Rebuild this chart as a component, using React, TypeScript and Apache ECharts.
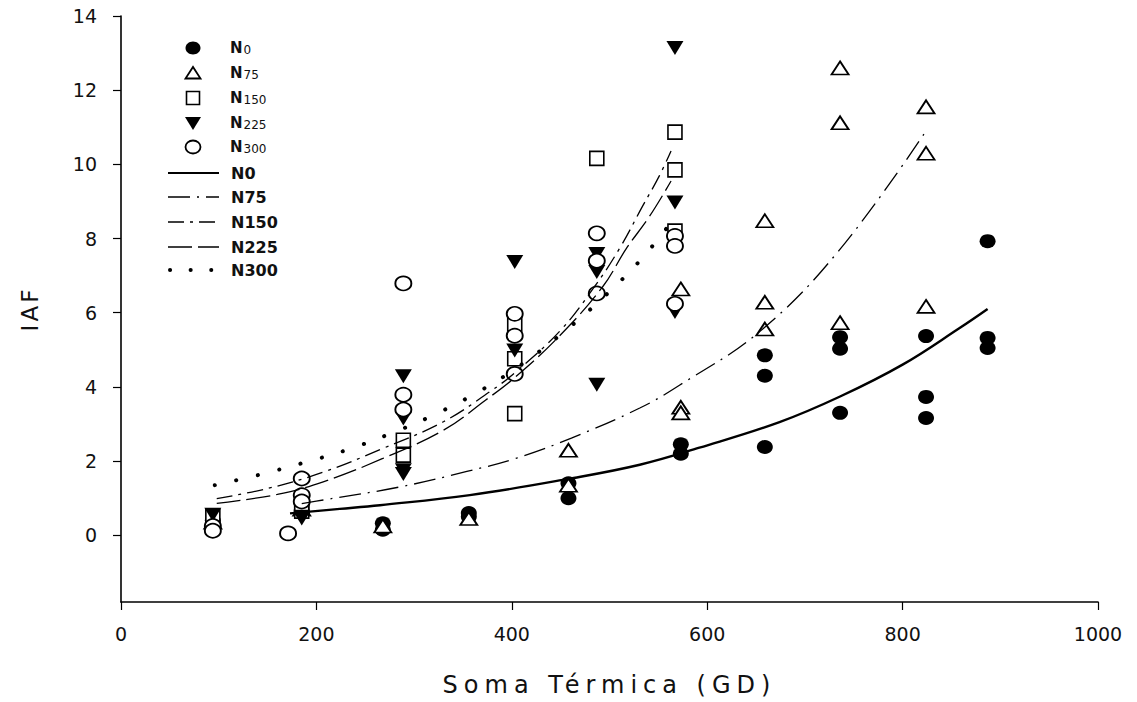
import React, { useEffect, useRef } from 'react';
import * as echarts from 'echarts';

const xTicks = [0, 200, 400, 600, 800, 1000];
const yTicks = [0, 2, 4, 6, 8, 10, 12, 14];

// Observed points [Soma Térmica (GD), IAF]
const n0Points = [
  [94, 0.4], [171, 0.05], [185, 0.6], [268, 0.32], [268, 0.15], [356, 0.6], [356, 0.5],
  [458, 1.4], [458, 1.0], [573, 2.45], [573, 2.2], [659, 4.85], [659, 4.3], [659, 2.38],
  [736, 5.34], [736, 5.03], [736, 3.3], [824, 5.37], [824, 3.73], [824, 3.16],
  [887, 7.93], [887, 5.32], [887, 5.05],
];
const n75Points = [
  [94, 0.35], [185, 0.7], [268, 0.25], [356, 0.45], [458, 2.29], [458, 1.35],
  [573, 6.64], [573, 3.45], [573, 3.3], [659, 8.48], [659, 6.28], [659, 5.56],
  [736, 12.6], [736, 11.12], [736, 5.73], [824, 11.55], [824, 10.3], [824, 6.17],
];
const n150Points = [
  [94, 0.5], [185, 0.65], [185, 0.75], [289, 2.56], [289, 2.16], [403, 5.7], [403, 4.76],
  [403, 3.28], [487, 10.16], [567, 10.87], [567, 9.85], [567, 8.2],
];
const n225Points = [
  [94, 0.55], [185, 0.5], [185, 0.45], [289, 4.29], [289, 3.15], [289, 1.75], [289, 1.65],
  [403, 7.37], [403, 4.98], [487, 7.58], [487, 7.1], [487, 4.06], [567, 13.14], [567, 8.97],
  [567, 6.02],
];
const n300Points = [
  [94, 0.25], [94, 0.12], [171, 0.05], [185, 1.53], [185, 1.08], [185, 0.91], [289, 6.79],
  [289, 3.79], [289, 3.39], [403, 5.97], [403, 5.38], [403, 4.35], [487, 8.14], [487, 7.4],
  [487, 6.52], [567, 8.07], [567, 7.8], [567, 6.24],
];

// Fitted curves
const n0Curve = [
  [173, 0.59], [224, 0.71], [265, 0.81], [357, 1.08], [458, 1.52], [531, 1.9], [592, 2.36],
  [674, 3.05], [736, 3.74], [800, 4.6], [858, 5.58], [887, 6.1],
];
const n75Curve = [
  [185, 0.85], [207, 0.95], [285, 1.3], [354, 1.72], [405, 2.08], [461, 2.62], [531, 3.43],
  [572, 4.05], [654, 5.5], [735, 7.68], [824, 10.9],
];
const n150Curve = [
  [98, 0.99], [150, 1.26], [207, 1.7], [268, 2.34], [330, 3.06], [377, 3.86], [403, 4.38],
  [449, 5.5], [483, 6.64], [510, 7.72], [534, 8.88], [551, 9.69], [563, 10.36],
];
const n225Curve = [
  [98, 0.86], [160, 1.1], [207, 1.44], [268, 2.07], [330, 2.83], [373, 3.64], [403, 4.25],
  [449, 5.38], [493, 6.7], [517, 7.72], [541, 8.6], [563, 9.55],
];
const n300Curve = [
  [96, 1.35], [140, 1.62], [185, 1.94], [230, 2.29], [274, 2.72], [319, 3.23], [364, 3.84],
  [406, 4.53], [451, 5.43], [494, 6.42], [531, 7.4], [563, 8.43],
];

const FONT = 'DejaVu Sans';
const X_TITLE = 'Soma Térmica (GD)';
const Y_TITLE = 'IAF';

function buildLegend() {
  const els: any[] = [];
  const sx = 193;
  const rows = [48, 73, 98, 123, 147];
  els.push({ type: 'ellipse', shape: { cx: sx, cy: rows[0], rx: 7.5, ry: 6.5 }, style: { fill: '#000' } });
  els.push({ type: 'polygon', shape: { points: [[sx - 7.5, rows[1] + 5.5], [sx + 7.5, rows[1] + 5.5], [sx, rows[1] - 6]] }, style: { fill: '#fff', stroke: '#000', lineWidth: 1.8 } });
  els.push({ type: 'rect', shape: { x: sx - 6.5, y: rows[2] - 6.5, width: 13, height: 13 }, style: { fill: '#fff', stroke: '#000', lineWidth: 1.6 } });
  els.push({ type: 'polygon', shape: { points: [[sx - 8, rows[3] - 6], [sx + 8, rows[3] - 6], [sx, rows[3] + 7]] }, style: { fill: '#000' } });
  els.push({ type: 'ellipse', shape: { cx: sx, cy: rows[4], rx: 7.5, ry: 6.5 }, style: { fill: '#fff', stroke: '#000', lineWidth: 1.8 } });
  const symLabels = [['N', '0'], ['N', '75'], ['N', '150'], ['N', '225'], ['N', '300']];
  symLabels.forEach((l, i) => {
    els.push({
      type: 'text', x: 230, y: rows[i],
      style: {
        text: `{a|${l[0]}}{b|${l[1]}}`, verticalAlign: 'middle',
        rich: {
          a: { fontFamily: FONT, fontSize: 15, fill: '#111', fontWeight: 'bold', verticalAlign: 'bottom' },
          b: { fontFamily: FONT, fontSize: 12, fill: '#111', verticalAlign: 'bottom', padding: [0, 0, 0, 1] },
        },
      },
    });
  });
  const lineRows = [173, 197, 222, 247, 270];
  const lineNames = ['N0', 'N75', 'N150', 'N225', 'N300'];
  const dashes: any[] = [null, [22, 7, 2, 7], [16, 6, 3, 6], [24, 6], [0.1, 20.5]];
  lineRows.forEach((y, i) => {
    els.push({
      type: 'line', shape: { x1: i === 4 ? 170 : 168, y1: y, x2: i === 4 ? 213 : 219, y2: y },
      style: { stroke: '#000', lineWidth: i === 0 ? 2 : i === 4 ? 4 : 1.4, lineDash: dashes[i] || undefined, lineCap: i === 4 ? 'round' : 'butt' },
    });
    els.push({
      type: 'text', x: 231, y,
      style: { text: lineNames[i], fontFamily: FONT, fontSize: 16, fontWeight: 'bold', fill: '#111', verticalAlign: 'middle' },
    });
  });
  return els;
}

export default function App() {
  const ref = useRef<HTMLDivElement>(null);
  useEffect(() => {
    if (!ref.current) return;
    const chart = echarts.init(ref.current, undefined, { renderer: 'svg' });
    const openStyle = { color: '#fff', borderColor: '#000', borderWidth: 1.8, opacity: 1 };
    const filledStyle = { color: '#000', opacity: 1 };
    const lineBase = { type: 'line', smooth: 0.4, showSymbol: false, symbol: 'none', z: 5, silent: true };
    chart.setOption({
      animation: false,
      backgroundColor: '#fff',
      grid: { left: 121, right: 39, top: 16, bottom: 98, containLabel: false },
      xAxis: {
        type: 'value', min: 0, max: 1000, interval: 200,
        name: X_TITLE, nameLocation: 'middle', nameGap: 71,
        nameTextStyle: { fontFamily: FONT, fontSize: 24, color: '#111' },
        axisLine: { onZero: false, lineStyle: { color: '#000', width: 1.6 } },
        axisTick: { show: true, length: 8, customValues: xTicks, lineStyle: { color: '#000', width: 1.2 } },
        axisLabel: { margin: 22, fontFamily: FONT, fontSize: 19, color: '#111', customValues: xTicks, formatter: (v: number) => String(v) },
        splitLine: { show: false },
      },
      yAxis: {
        type: 'value', min: -1.8, max: 14,
        name: Y_TITLE, nameLocation: 'middle', nameGap: 80, nameRotate: 90,
        nameTextStyle: { fontFamily: FONT, fontSize: 23, color: '#111' },
        axisLine: { show: true, onZero: false, lineStyle: { color: '#000', width: 1.6 } },
        axisTick: { show: true, length: 8, customValues: yTicks, lineStyle: { color: '#000', width: 1.2 } },
        axisLabel: { margin: 24, fontFamily: FONT, fontSize: 19, color: '#111', customValues: yTicks, formatter: (v: number) => String(v) },
        splitLine: { show: false },
      },
      graphic: buildLegend(),
      series: [
        { name: 'N0', type: 'scatter', data: n0Points, symbol: 'circle', symbolSize: [16, 14], itemStyle: filledStyle, z: 2 },
        { name: 'N75', type: 'scatter', data: n75Points, symbol: 'triangle', symbolSize: [17, 13], itemStyle: openStyle, z: 2 },
        { name: 'N150', type: 'scatter', data: n150Points, symbol: 'rect', symbolSize: [14, 14], itemStyle: { ...openStyle, borderWidth: 1.6 }, z: 2 },
        { name: 'N225', type: 'scatter', data: n225Points, symbol: 'triangle', symbolRotate: 180, symbolSize: [17, 14], itemStyle: filledStyle, z: 2 },
        { name: 'N300', type: 'scatter', data: n300Points, symbol: 'circle', symbolSize: [16, 14], itemStyle: openStyle, z: 2 },
        { ...lineBase, name: 'N0 ajuste', data: n0Curve, lineStyle: { color: '#000', width: 2.4, type: 'solid' } },
        { ...lineBase, name: 'N75 ajuste', data: n75Curve, lineStyle: { color: '#000', width: 1.3, type: [22, 7, 2, 7] } },
        { ...lineBase, name: 'N150 ajuste', data: n150Curve, lineStyle: { color: '#000', width: 1.3, type: [16, 6, 3, 6] } },
        { ...lineBase, name: 'N225 ajuste', data: n225Curve, lineStyle: { color: '#000', width: 1.3, type: [24, 6] } },
        { ...lineBase, name: 'N300 ajuste', data: n300Curve, lineStyle: { color: '#000', width: 4, type: [0.1, 22], cap: 'round' } },
      ],
    });
    // widen the spaced-out axis titles as in the scanned original
    const texts = ref.current.querySelectorAll('text');
    texts.forEach((t) => {
      const s = (t.textContent || '').trim();
      if (s === X_TITLE) (t as any).style.letterSpacing = '6px';
      else if (s === Y_TITLE) (t as any).style.letterSpacing = '3px';
    });
    return () => chart.dispose();
  }, []);
  return <div ref={ref} style={{ position: 'fixed', left: 0, top: 0, width: 1137, height: 702, background: '#fff' }} />;
}
